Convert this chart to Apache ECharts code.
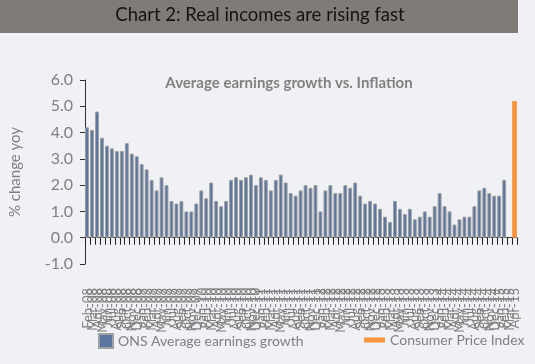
<!DOCTYPE html>
<html>
<head>
<meta charset="utf-8">
<script src="https://cdn.jsdelivr.net/npm/echarts@6/dist/echarts.min.js"></script>
<style>
  html, body { margin: 0; padding: 0; background: #f0f1f5; }
  #chart { width: 535px; height: 364px; }
</style>
</head>
<body>
<div id="chart"></div>
<script>
// Month categories (x axis tick labels)
const months = [
  'Feb-08','Mar-08','Apr-08','May-08','Jun-08','Jul-08','Aug-08','Sep-08','Oct-08','Nov-08','Dec-08',
  'Jan-09','Feb-09','Mar-09','Apr-09','May-09','Jun-09','Jul-09','Aug-09','Sep-09','Oct-09','Nov-09','Dec-09',
  'Jan-10','Feb-10','Mar-10','Apr-10','May-10','Jun-10','Jul-10','Aug-10','Sep-10','Oct-10','Nov-10','Dec-10',
  'Jan-11','Feb-11','Mar-11','Apr-11','May-11','Jun-11','Jul-11','Aug-11','Sep-11','Oct-11','Nov-11','Dec-11',
  'Jan-12','Feb-12','Mar-12','Apr-12','May-12','Jun-12','Jul-12','Aug-12','Sep-12','Oct-12','Nov-12','Dec-12',
  'Jan-13','Feb-13','Mar-13','Apr-13','May-13','Jun-13','Jul-13','Aug-13','Sep-13','Oct-13','Nov-13','Dec-13',
  'Jan-14','Feb-14','Mar-14','Apr-14','May-14','Jun-14','Jul-14','Aug-14','Sep-14','Oct-14','Nov-14','Dec-14',
  'Jan-15','Feb-15','Mar-15','Apr-15'
];

// ONS Average earnings growth, % change yoy (Feb-08 .. Feb-15)
const earningsGrowth = [
  4.2, 4.1, 4.8, 3.8, 3.5, 3.4, 3.3, 3.3, 3.6, 3.2, 3.1, 2.8, 2.6, 2.2, 1.8, 2.3, 2.0, 1.4, 1.3, 1.4,
  1.0, 1.0, 1.3, 1.8, 1.5, 2.1, 1.4, 1.2, 1.4, 2.2, 2.3, 2.2, 2.3, 2.4, 2.0, 2.3, 2.2, 1.8, 2.2, 2.4,
  2.1, 1.7, 1.6, 1.8, 2.0, 1.9, 2.0, 1.0, 1.8, 2.0, 1.7, 1.7, 2.0, 1.9, 2.1, 1.6, 1.3, 1.4, 1.3, 1.1,
  0.8, 0.6, 1.4, 1.1, 0.9, 1.1, 0.7, 0.8, 1.0, 0.8, 1.2, 1.7, 1.2, 1.0, 0.5, 0.7, 0.8, 0.8, 1.2, 1.8,
  1.9, 1.7, 1.6, 1.6, 2.2
];

// Consumer Price Index, % change yoy (only value shown)
const cpiMonths = ['Apr-15'];
const cpiValues = [5.2];

// Y axis ticks
const yMin = -1, yMax = 6, yStep = 1;

const cpiSeries = months.map(m => {
  const i = cpiMonths.indexOf(m);
  return i >= 0 ? cpiValues[i] : null;
});

const FONT = 'Lato';
const chart = echarts.init(document.getElementById('chart'));
chart.setOption({
  backgroundColor: '#f0f1f5',
  animation: false,
  textStyle: { fontFamily: FONT },
  graphic: [
    { type: 'rect', left: 0, top: 0, shape: { width: 518, height: 33 }, style: { fill: '#7f7b77' } },
    { type: 'text', x: 260, y: 15, style: { text: 'Chart 2: Real incomes are rising fast', fill: '#141414',
      font: '18.5px ' + FONT, textAlign: 'center', textVerticalAlign: 'middle' } }
  ],
  title: {
    text: 'Average earnings growth vs. Inflation',
    left: 284, top: 71, textAlign: 'center',
    textStyle: { fontFamily: FONT, fontSize: 15, fontWeight: 'bold', color: '#808080' }
  },
  grid: { left: 80, right: 18, top: 80, bottom: 100, containLabel: false },
  legend: [
    { data: ['ONS Average earnings growth'], left: 93, top: 328, itemWidth: 14, itemHeight: 14,
      icon: 'rect', textStyle: { fontFamily: FONT, fontSize: 14, color: '#808080' } },
    { data: ['Consumer Price Index'], left: 359, top: 328, itemWidth: 21, itemHeight: 5,
      icon: 'rect', textStyle: { fontFamily: FONT, fontSize: 14, color: '#808080' } }
  ],
  xAxis: {
    type: 'category',
    data: months,
    axisLine: { onZero: true, lineStyle: { color: '#404040', width: 1 } },
    axisTick: { show: true, interval: 0, length: 7, lineStyle: { color: '#202020' } },
    axisLabel: { interval: 0, rotate: 90, margin: 24, fontSize: 13, color: '#808080', fontFamily: FONT },
    splitLine: { show: false }
  },
  yAxis: {
    type: 'value',
    min: yMin, max: yMax, interval: yStep,
    name: '% change yoy',
    nameLocation: 'middle',
    nameGap: 62,
    nameRotate: 90,
    nameTextStyle: { fontFamily: FONT, fontSize: 15, color: '#808080' },
    axisLine: { show: true, lineStyle: { color: '#303030', width: 1 } },
    axisTick: { show: true, length: 5, lineStyle: { color: '#303030' } },
    axisLabel: { margin: 12, fontSize: 16, color: '#808080', fontFamily: FONT, formatter: v => v.toFixed(1) },
    splitLine: { show: false }
  },
  series: [
    { type: 'bar', name: 'ONS Average earnings growth', data: earningsGrowth,
      barWidth: '78%', barGap: '-100%',
      itemStyle: { color: '#5a75a0', borderColor: '#a0a0a0', borderWidth: 1 } },
    { type: 'bar', name: 'Consumer Price Index', data: cpiSeries,
      barWidth: '95%', barGap: '-100%',
      itemStyle: { color: '#f7963f' } }
  ]
});
</script>
</body>
</html>
